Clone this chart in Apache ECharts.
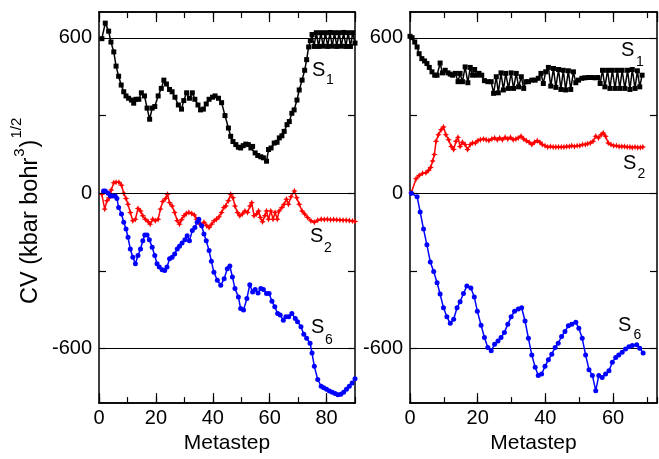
<!DOCTYPE html>
<html><head><meta charset="utf-8">
<script src="https://cdn.jsdelivr.net/npm/echarts@6/dist/echarts.min.js"></script>
<style>html,body{margin:0;padding:0;background:#fff}#c{width:659px;height:459px}</style>
</head><body><div id="c"></div>
<script>
// ---------- data (metastep, CV) ----------
const leftS1 = [[1,597],[2.2,657],[3.4,626],[4.2,584],[5.2,546],[6,491],[6.9,452],[7.8,418],[8.7,392],[9.5,376],[10.4,367],[11.4,360],[12.2,348],[13,363],[14,363],[14.9,388],[16,376],[16.9,329],[17.8,286],[18.7,329],[19.6,335],[20.8,376],[21.9,405],[22.8,437],[23.7,422],[24.8,401],[25.7,392],[26.7,371],[27.9,341],[29,325],[29.8,358],[30.8,388],[31.8,367],[32.8,388],[33.7,363],[34.8,341],[35.7,322],[36.7,325],[37.7,345],[38.7,363],[39.9,371],[40.8,376],[42,367],[43.1,350],[44.3,300],[45.5,252],[46.3,220],[47.1,200],[48.1,188],[49,178],[49.8,175],[50.7,184],[51.6,190],[52.5,188],[53.4,175],[54,181],[54.9,156],[55.8,146],[56.9,141],[57.8,137],[58.9,124],[59.6,169],[60.5,175],[61.6,194],[62.6,197],[63.4,214],[64.3,222],[65.1,239],[66.1,265],[66.9,277],[67.8,309],[68.6,322],[69.6,360],[70.4,399],[71.4,437],[72.3,475],[73,516],[73.7,565],[74.3,590],[74.9,613],[75.6,567],[76.4,620],[77.2,567],[78,620],[78.8,568],[79.6,620],[80.4,567],[81.2,621],[82,568],[82.8,620],[83.6,567],[84.4,620],[85.2,568],[86,621],[86.8,567],[87.6,620],[88.4,567],[89.2,620],[90,580]];
const leftS2 = [[1,-4],[2,-61],[2.8,-29],[3.6,-17],[4.3,13],[5.2,41],[6,43],[7,43],[7.9,31],[8.7,0],[9.5,-20],[10.2,-42],[11,-74],[11.9,-106],[12.8,-100],[13.7,-59],[14.6,-68],[15.4,-87],[16.3,-100],[17.3,-110],[18,-119],[18.9,-100],[19.8,-106],[20.8,-100],[21.6,-61],[22.4,-32],[23.4,-20],[24.1,-4],[24.8,-36],[25.7,-49],[26.6,-74],[27.5,-106],[28.3,-119],[29,-102],[29.9,-87],[30.7,-78],[31.6,-74],[32.6,-78],[33.5,-84],[34.3,-100],[35.2,-116],[36.1,-125],[36.9,-112],[37.9,-125],[38.7,-132],[39.6,-119],[40.5,-106],[41.3,-100],[42.2,-91],[43.1,-74],[43.9,-55],[44.6,-49],[45.5,-29],[46.3,-4],[47.1,-17],[47.8,-49],[48.7,-74],[49.5,-87],[50.4,-80],[51.3,-68],[52.2,-74],[53.1,-49],[53.7,-36],[54.5,-87],[55.4,-80],[56.1,-68],[56.7,-93],[57.5,-110],[58.3,-87],[58.9,-68],[59.6,-100],[60.4,-68],[61.2,-100],[61.9,-74],[62.7,-100],[63.3,-68],[64.3,-55],[65.1,-42],[65.9,-23],[66.6,-42],[67.5,-13],[68.7,9],[69.5,-17],[70.4,-42],[71.4,-68],[72.3,-80],[73.3,-93],[74.5,-106],[75.7,-112],[76.9,-104],[78.1,-100],[79.2,-101],[80.3,-100],[81.4,-102],[82.5,-101],[83.6,-102],[84.7,-103],[85.8,-104],[86.9,-104],[88,-105],[89.1,-107],[90,-109]];
const leftS6 = [[1.6,9],[2.2,9],[3.2,0],[4,-10],[4.8,-10],[5.7,-10],[6.3,-20],[6.9,-55],[7.9,-80],[8.7,-112],[9.5,-138],[10.2,-170],[11,-215],[11.9,-247],[12.8,-272],[13.7,-240],[14.6,-215],[15.4,-183],[16.1,-161],[16.9,-161],[17.7,-179],[18.7,-208],[19.6,-240],[20.4,-272],[21.2,-285],[22.2,-295],[23.1,-298],[23.9,-285],[24.8,-253],[25.7,-247],[26.6,-234],[27.5,-215],[28.3,-204],[29.2,-192],[30.2,-179],[31,-164],[31.8,-183],[32.8,-144],[33.7,-132],[34.5,-112],[35.1,-100],[36.1,-125],[36.9,-157],[37.7,-183],[38.7,-221],[39.5,-262],[40.4,-305],[41.6,-336],[42.8,-355],[44,-330],[45.1,-291],[46,-281],[46.9,-323],[47.8,-368],[49,-400],[49.8,-445],[50.8,-451],[52,-406],[53,-353],[54,-381],[54.9,-371],[55.9,-385],[56.9,-368],[57.8,-371],[58.9,-387],[59.8,-387],[60.8,-417],[61.8,-438],[62.8,-464],[63.7,-470],[64.8,-490],[65.7,-477],[66.7,-477],[67.8,-464],[69,-483],[69.8,-496],[71,-515],[72,-544],[73,-560],[74.2,-579],[74.9,-617],[75.7,-668],[76.9,-719],[78.1,-745],[79,-751],[80,-757],[81,-763],[82,-768],[83,-773],[84,-778],[85,-776],[86,-768],[87,-757],[88,-745],[89,-732],[90,-716]];
const rightS1 = [[0,606],[0.6,601],[1.4,584],[2.1,565],[2.7,539],[3.5,520],[4.3,511],[5,501],[5.7,486],[6.5,469],[7.3,456],[8,456],[8.9,503],[9.6,465],[10.4,475],[11.2,465],[11.9,460],[12.6,456],[13.4,463],[14.2,431],[14.8,463],[15.5,431],[16.3,488],[17.1,427],[17.8,486],[18.5,456],[19.1,478],[19.8,456],[20.4,463],[21.2,456],[22,435],[23,431],[24,431],[24.7,386],[25.5,450],[26.1,388],[26.9,465],[27.6,399],[28.3,463],[29.1,405],[29.9,465],[30.6,405],[31.4,463],[32.1,411],[32.9,450],[33.6,405],[34.2,431],[35,431],[36,437],[37,437],[37.9,444],[38.7,463],[39.4,424],[40.1,469],[40.9,486],[41.6,414],[42.4,482],[43.1,409],[43.9,478],[44.6,401],[45.3,475],[46,399],[46.8,473],[47.5,401],[48.3,469],[49,427],[49.8,437],[50.8,444],[51.7,446],[52.7,447],[53.7,447],[54.7,446],[55.5,447],[56.2,424],[56.9,475],[57.6,411],[58.4,475],[59.1,405],[59.8,475],[60.6,405],[61.3,475],[62,405],[62.7,475],[63.5,405],[64.3,475],[65,401],[65.7,478],[66.5,405],[67.2,473],[67.9,411],[68.6,456]];
const rightS2 = [[0.4,3],[1.8,56],[2.7,69],[3.7,77],[4.7,79],[5.5,89],[6.1,100],[6.7,125],[7.2,150],[7.7,201],[8.4,226],[9.2,245],[9.9,256],[10.6,226],[11.4,207],[12.2,181],[12.9,169],[13.6,201],[14.2,216],[14.8,181],[15.5,197],[16.3,188],[17,169],[17.8,188],[18.5,194],[19.3,194],[20.1,204],[20.8,207],[21.7,210],[22.5,207],[23.3,204],[24.2,210],[25,214],[25.8,207],[26.5,214],[27.3,207],[28.1,216],[28.9,210],[29.7,216],[30.5,207],[31.3,210],[32,214],[32.8,220],[33.6,210],[34.4,203],[35.2,197],[36,188],[36.8,197],[37.6,203],[38.4,197],[39.1,188],[39.9,184],[40.7,179],[41.5,181],[42.3,179],[43.1,179],[43.9,179],[44.7,179],[45.5,179],[46.3,181],[47.1,181],[47.8,184],[48.6,181],[49.4,184],[50.2,184],[51,188],[51.8,188],[52.5,191],[53.3,194],[54.1,201],[54.9,220],[55.7,214],[56.5,226],[57.1,233],[57.8,220],[58.6,194],[59.4,188],[60.2,184],[61,184],[61.8,181],[62.6,181],[63.4,181],[64.2,179],[65,179],[65.7,177],[66.5,179],[67.3,177],[68.1,177],[68.8,179]];
const rightS6 = [[0.4,0],[2.1,-13],[3,-72],[4,-138],[5,-199],[6,-265],[7,-302],[8,-345],[8.9,-389],[9.9,-442],[10.9,-477],[11.9,-502],[12.9,-486],[13.9,-442],[14.8,-419],[15.8,-387],[16.8,-358],[18,-366],[19,-400],[19.9,-455],[21,-509],[22,-557],[23,-595],[24,-608],[25,-583],[26,-570],[26.9,-557],[27.9,-537],[28.9,-506],[29.9,-477],[30.9,-455],[32,-447],[33,-442],[34,-493],[35,-560],[36,-624],[37,-672],[37.9,-703],[38.9,-698],[39.9,-668],[40.9,-643],[41.9,-621],[42.9,-595],[43.8,-579],[44.8,-553],[45.8,-534],[46.8,-511],[47.8,-506],[49,-498],[49.9,-521],[50.9,-560],[51.9,-624],[52.9,-681],[53.9,-703],[54.9,-762],[55.8,-703],[56.8,-711],[57.8,-698],[58.8,-685],[59.8,-652],[60.8,-634],[61.7,-624],[62.7,-614],[63.7,-601],[64.7,-592],[65.7,-588],[67,-585],[67.9,-598],[68.9,-617]];

const xMax = [90, 73];
const yMin = -810, yMax = 700;
const yLabelValues = [-600, 0, 600];
const yTickValues = [-600, -300, 0, 300, 600];
const refLines = [600, 0, -600];
const seriesNames = ['S1', 'S2', 'S6'];
const subs = ['1', '2', '6'];

// ---------- chart ----------
const FONT = '"Liberation Sans", Arial, Helvetica, sans-serif';
const chart = echarts.init(document.getElementById('c'));
const black = '#000';

function xAxesFor(gi) {
  const base = {gridIndex: gi, type: 'value', min: 0, max: xMax[gi], splitLine: {show: false},
    axisLine: {show: true, onZero: false, lineStyle: {color: black, width: 1.5}}};
  const major = {inside: true, length: 10, lineStyle: {color: black, width: 1.2}};
  const minor = {inside: true, length: 6, lineStyle: {color: black, width: 1.2}};
  return [
    Object.assign({}, base, {position: 'bottom', interval: 20, axisTick: major,
      axisLabel: {show: true, showMaxLabel: false, color: black, fontSize: 20, fontFamily: FONT, margin: 5},
      name: 'Metastep', nameLocation: 'middle', nameGap: 26,
      nameTextStyle: {color: black, fontSize: 21, fontFamily: FONT}}),
    Object.assign({}, base, {position: 'top', interval: 20, axisTick: major, axisLabel: {show: false}}),
    Object.assign({}, base, {position: 'bottom', interval: 10, axisTick: minor, axisLabel: {show: false}}),
    Object.assign({}, base, {position: 'top', interval: 10, axisTick: minor, axisLabel: {show: false}})
  ];
}
function yAxesFor(gi) {
  const base = {gridIndex: gi, type: 'value', min: yMin, max: yMax, splitLine: {show: false},
    axisLine: {show: true, onZero: false, lineStyle: {color: black, width: 1.5}},
    axisTick: {inside: true, length: 7, customValues: yTickValues, lineStyle: {color: black, width: 1.2}}};
  return [
    Object.assign({}, base, {position: 'left',
      axisLabel: {show: true, customValues: yLabelValues, color: black, fontSize: 20, fontFamily: FONT, margin: 7}}),
    Object.assign({}, base, {position: 'right', axisLabel: {show: false}})
  ];
}

const colors = [black, '#ff0000', '#0000ff'];
const symbols = ['rect', 'path://M0,-10L3,-3L10,0L3,3L0,10L-3,3L-10,0L-3,-3Z', 'circle'];
const symSizes = [5, 6.5, 5];
const panelData = [[leftS1, leftS2, leftS6], [rightS1, rightS2, rightS6]];

const series = [];
for (let gi = 0; gi < 2; gi++) {
  for (let si = 0; si < 3; si++) {
    const s = {
      type: 'line', name: seriesNames[si] + (gi ? 'R' : 'L'),
      xAxisIndex: gi * 4, yAxisIndex: gi * 2,
      data: panelData[gi][si],
      symbol: symbols[si], symbolSize: symSizes[si], showSymbol: true,
      itemStyle: {color: colors[si]},
      lineStyle: {color: colors[si], width: 1.5},
      z: 3 + si, animation: false
    };
    if (si === 0) {
      s.markLine = {silent: true, symbol: 'none', animation: false, label: {show: false},
        lineStyle: {color: black, width: 1, type: 'solid'},
        data: refLines.map(v => ({yAxis: v}))};
    }
    series.push(s);
  }
}

chart.setOption({
  backgroundColor: '#fff',
  animation: false,
  grid: [
    {left: 99, top: 12, width: 256, bottom: 54},
    {left: 410, top: 12, width: 247, bottom: 54}
  ],
  xAxis: xAxesFor(0).concat(xAxesFor(1)),
  yAxis: yAxesFor(0).concat(yAxesFor(1)),
  series: series
});

// ---------- annotations ----------
const labelPos = [
  [[312, 70], [326, 80.5]], [[310, 236.7], [324, 248.3]], [[311, 327.5], [325, 340]],
  [[621, 50], [636, 61.7]], [[623, 163.7], [637.5, 174.3]], [[618, 325.8], [633.5, 335]]
];
const graphics = [];
labelPos.forEach((p, i) => {
  const si = i % 3;
  graphics.push({type: 'text', x: p[0][0], y: p[0][1], silent: true,
    style: {text: 'S', font: '20px ' + FONT, fill: black, textAlign: 'left', textVerticalAlign: 'middle'}});
  graphics.push({type: 'text', x: p[1][0], y: p[1][1], silent: true,
    style: {text: subs[si], font: '14px ' + FONT, fill: black, textAlign: 'left', textVerticalAlign: 'middle'}});
});

// y-axis title with superscripts, rotated
const ctx = document.createElement('canvas').getContext('2d');
function tw(t, fs) { ctx.font = fs + 'px ' + FONT; return ctx.measureText(t).width; }
const fsMain = 23.5, fsSup = 15;
const t1 = 'CV (kbar bohr', t2 = '3', t3 = ')', t4 = '1/2';
let cx = 0;
const parts = [];
const base = -0.35 * fsMain;
parts.push({text: t1, fs: fsMain, x: cx, y: base}); cx += tw(t1, fsMain);
parts.push({text: t2, fs: fsSup, x: cx + 1, y: base - 10}); cx += tw(t2, fsSup) + 2;
parts.push({text: t3, fs: fsMain, x: cx, y: base}); cx += tw(t3, fsMain);
parts.push({text: t4, fs: fsSup, x: cx + 1, y: base - 13});
graphics.push({
  type: 'group', x: 38.5, y: 304, rotation: Math.PI / 2, silent: true,
  children: parts.map(p => ({type: 'text', x: p.x, y: p.y,
    style: {text: p.text, font: p.fs + 'px ' + FONT, fill: black, textAlign: 'left', textVerticalAlign: 'middle'}}))
});
chart.setOption({graphic: graphics});
</script>
</body></html>
